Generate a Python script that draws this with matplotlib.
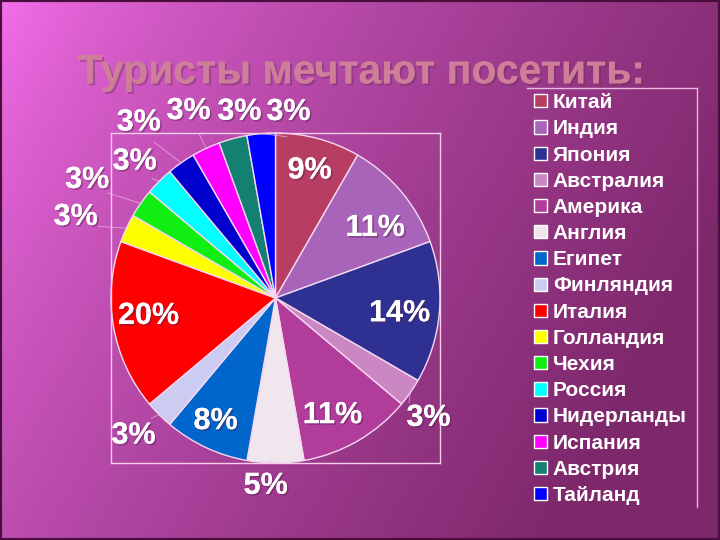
import numpy as np
import matplotlib
matplotlib.use("Agg")
import matplotlib.pyplot as plt
import matplotlib.patheffects as pe
from matplotlib.patches import Patch, Rectangle
from matplotlib.lines import Line2D

plt.rcParams["font.family"] = ["Liberation Sans", "DejaVu Sans"]

countries = ["Китай", "Индия", "Япония", "Австралия", "Америка", "Англия",
             "Египет", "Финляндия", "Италия", "Голландия", "Чехия", "Россия",
             "Нидерланды", "Испания", "Австрия", "Тайланд"]
votes = [3, 4, 5, 1, 4, 2, 3, 1, 6, 1, 1, 1, 1, 1, 1, 1]
pct_labels = ["9%", "11%", "14%", "3%", "11%", "5%", "8%", "3%", "20%",
              "3%", "3%", "3%", "3%", "3%", "3%", "3%"]

colors = ["#B83D62", "#A764B8", "#2E3192", "#CB86C4", "#B23C9A", "#F2E6EE",
          "#0066CC", "#CCCCF2", "#FF0000", "#FFFF00", "#11EE11", "#00FFFF",
          "#0000CC", "#FF00FF", "#138071", "#0000FF"]

# label placement: radius (pie radius = 1) and angle shift in degrees
label_r = [0.80, 0.74, 0.76, 1.18, 0.79, 1.14, 0.83, 1.20, 0.78,
           1.31, 1.35, 1.19, 1.35, 1.25, 1.15, 1.13]
label_shift = [0, -5, -2, -3, -4, -3, -1, -1, -2,
               3, 3, 1, 3, 0, -4, -9]

fig = plt.figure(figsize=(7.2, 5.4), dpi=100)

# background gradient
bg = fig.add_axes([0, 0, 1, 1])
h, w = 270, 360
yy, xx = np.mgrid[0:1:h * 1j, 0:1:w * 1j]
t = np.clip(xx * 0.85 + yy * 0.35, 0, 1) ** 0.7
bright = np.array([248, 112, 238]) / 255
dark = np.array([126, 40, 108]) / 255
img = bright + (dark - bright) * t[..., None]
bg.imshow(img, aspect="auto", extent=[0, 1, 0, 1], origin="upper")
bg.add_patch(Rectangle((0, 0), 1, 1, fill=False, edgecolor="#4A0E3C", lw=3))
bg.set_xlim(0, 1)
bg.set_ylim(0, 1)
bg.axis("off")

shadow = [pe.withSimplePatchShadow(offset=(1.2, -1.2), shadow_rgbFace="#5A2050", alpha=0.45), pe.Normal()]

fig.text(0.502, 0.866, "Туристы мечтают посетить:", ha="center", va="center",
         fontsize=29.5, fontweight="bold", color="#CE7E98",
         path_effects=[pe.withSimplePatchShadow(offset=(1.5, -1.5), shadow_rgbFace="#6A2A5E", alpha=0.4), pe.Normal()])

ax = fig.add_axes([111 / 720, 1 - 463 / 540, 329 / 720, 330 / 540])
wedges, _ = ax.pie(votes, colors=colors, startangle=90, counterclock=False,
                   radius=1.0, wedgeprops=dict(edgecolor="#F6D8F0", linewidth=1))
ax.set_xlim(-1.0, 1.0)
ax.set_ylim(-1.0, 1.0)
ax.set_aspect("auto")
ax.set_frame_on(True)
ax.patch.set_visible(False)
ax.set_xticks([])
ax.set_yticks([])
for s in ax.spines.values():
    s.set_visible(True)
    s.set_edgecolor("#F3CFEA")
    s.set_linewidth(1)

for wdg, lab, r, sh in zip(wedges, pct_labels, label_r, label_shift):
    mid = np.deg2rad((wdg.theta1 + wdg.theta2) / 2)
    ang = mid + np.deg2rad(sh)
    x, y = r * np.cos(ang), r * np.sin(ang)
    ax.text(x, y, lab, ha="center", va="center", fontsize=22, fontweight="bold",
            color="white", clip_on=False, path_effects=shadow)
    if r > 1.1:
        x0, y0 = 1.0 * np.cos(mid), 1.0 * np.sin(mid)
        rr = r - 0.15
        ax.plot([x0, rr * np.cos(ang)], [y0, rr * np.sin(ang)], color="#E8B8E0",
                lw=0.7, alpha=0.7, clip_on=False)

handles = [Patch(facecolor=c, edgecolor="white", linewidth=1) for c in colors]
leg = fig.legend(handles, countries, loc="upper left",
                 bbox_to_anchor=(530 / 720, 1 - 89 / 540),
                 borderaxespad=0, frameon=False,
                 prop=dict(family=["Liberation Sans", "DejaVu Sans"], weight="bold", size=15),
                 handlelength=0.6, handleheight=0.6, handletextpad=0.3,
                 labelspacing=0.345, borderpad=0.2)
for txt in leg.get_texts():
    txt.set_color("white")

# legend frame: only top and right edges show in the original
fig.add_artist(Line2D([527 / 720, 697 / 720], [1 - 88 / 540, 1 - 88 / 540],
                      color="#E8B8E0", lw=1))
fig.add_artist(Line2D([697 / 720, 697 / 720], [1 - 88 / 540, 1 - 507 / 540],
                      color="#E8B8E0", lw=1))

fig.savefig("out.png", dpi=100)
